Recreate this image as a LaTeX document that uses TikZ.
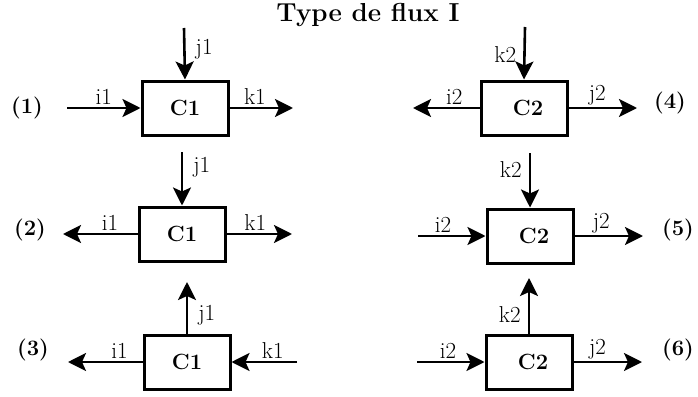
\documentclass[tikz,border=0pt]{standalone}
\usepackage{fontspec}
\usetikzlibrary{arrows.meta}

\begin{document}
\begin{tikzpicture}[x=1pt,y=-1pt,
  box/.style={draw, line width=3pt, minimum width=86pt, minimum height=54pt, inner sep=0pt,
    font=\fontsize{22}{26}\selectfont\bfseries},
  flow/.style={-{Stealth[length=18pt,width=18pt,inset=4pt]}, line width=2.6pt},
  lab/.style={font=\fontsize{23}{27}\selectfont, inner sep=2pt},
  num/.style={font=\fontsize{22}{26}\selectfont\bfseries}]
  \useasboundingbox (0,0) rectangle (698,396);

  % Title
  \node[font=\fontsize{26}{30}\selectfont\bfseries] (title) at (368,15) {Type de flux I};

  % (1)
  \node[box] (c1a) at (185,108) {C1};
  \coordinate (i1a) at (67,108);
  \coordinate (j1a) at (184,28);
  \coordinate (k1a) at (293,108);
  \draw[flow] (i1a) -- (c1a.west) node[lab, midway, above] (li1a) {i1};
  \draw[flow] (j1a) -- (c1a.north) node[lab, pos=0.42, right=8pt] (lj1a) {j1};
  \draw[flow] (c1a.east) -- (k1a) node[lab, pos=0.4, above] (lk1a) {k1};
  \node[num] (n1) at (27,108) {(1)};

  % (4)
  \node[box] (c2a) at (524,108) {\hspace{8pt}C2};
  \coordinate (i2a) at (413,108);
  \coordinate (k2a) at (525,27);
  \coordinate (j2a) at (637,108);
  \draw[flow] (c2a.west) -- (i2a) node[lab, pos=0.38, above] (li2a) {i2};
  \draw[flow] (k2a) -- (c2a.north) node[lab, pos=0.52, left=5pt] (lk2a) {k2};
  \draw[flow] (c2a.east) -- (j2a) node[lab, pos=0.42, above] (lj2a) {j2};
  \node[num] (n4) at (670,103) {(4)};

  % (2)
  \node[box] (c1b) at (182,234) {C1};
  \coordinate (i1b) at (63,234);
  \coordinate (j1b) at (182,152);
  \coordinate (k1b) at (292,234);
  \draw[flow] (c1b.west) -- (i1b) node[lab, pos=0.37, above] (li1b) {i1};
  \draw[flow] (j1b) -- (c1b.north) node[lab, pos=0.28, right=8pt] (lj1b) {j1};
  \draw[flow] (c1b.east) -- (k1b) node[lab, pos=0.44, above] (lk1b) {k1};
  \node[num] (n2) at (30,230) {(2)};

  % (5)
  \node[box] (c2b) at (530,236) {\hspace{8pt}C2};
  \coordinate (i2b) at (418,236);
  \coordinate (k2b) at (530,153);
  \coordinate (j2b) at (643,236);
  \draw[flow] (i2b) -- (c2b.west) node[lab, pos=0.37, above] (li2b) {i2};
  \draw[flow] (k2b) -- (c2b.north) node[lab, pos=0.31, left=5pt] (lk2b) {k2};
  \draw[flow] (c2b.east) -- (j2b) node[lab, pos=0.39, above] (lj2b) {j2};
  \node[num] (n5) at (678,230) {(5)};

  % (3)
  \node[box] (c1c) at (187,362) {C1};
  \coordinate (i1c) at (68,362);
  \coordinate (j1c) at (187,282);
  \coordinate (k1c) at (297,362);
  \draw[flow] (c1c.west) -- (i1c) node[lab, pos=0.31, above] (li1c) {i1};
  \draw[flow] (c1c.north) -- (j1c) node[lab, pos=0.35, right=8pt] (lj1c) {j1};
  \draw[flow] (k1c) -- (c1c.east) node[lab, pos=0.37, above] (lk1c) {k1};
  \node[num] (n3) at (33,350) {(3)};

  % (6)
  \node[box] (c2c) at (529,362) {\hspace{8pt}C2};
  \coordinate (i2c) at (417,362);
  \coordinate (k2c) at (529,278);
  \coordinate (j2c) at (642,362);
  \draw[flow] (i2c) -- (c2c.west) node[lab, pos=0.46, above] (li2c) {i2};
  \draw[flow] (c2c.north) -- (k2c) node[lab, pos=0.34, left=5pt] (lk2c) {k2};
  \draw[flow] (c2c.east) -- (j2c) node[lab, pos=0.35, above] (lj2c) {j2};
  \node[num] (n6) at (678,350) {(6)};
\end{tikzpicture}
\end{document}
